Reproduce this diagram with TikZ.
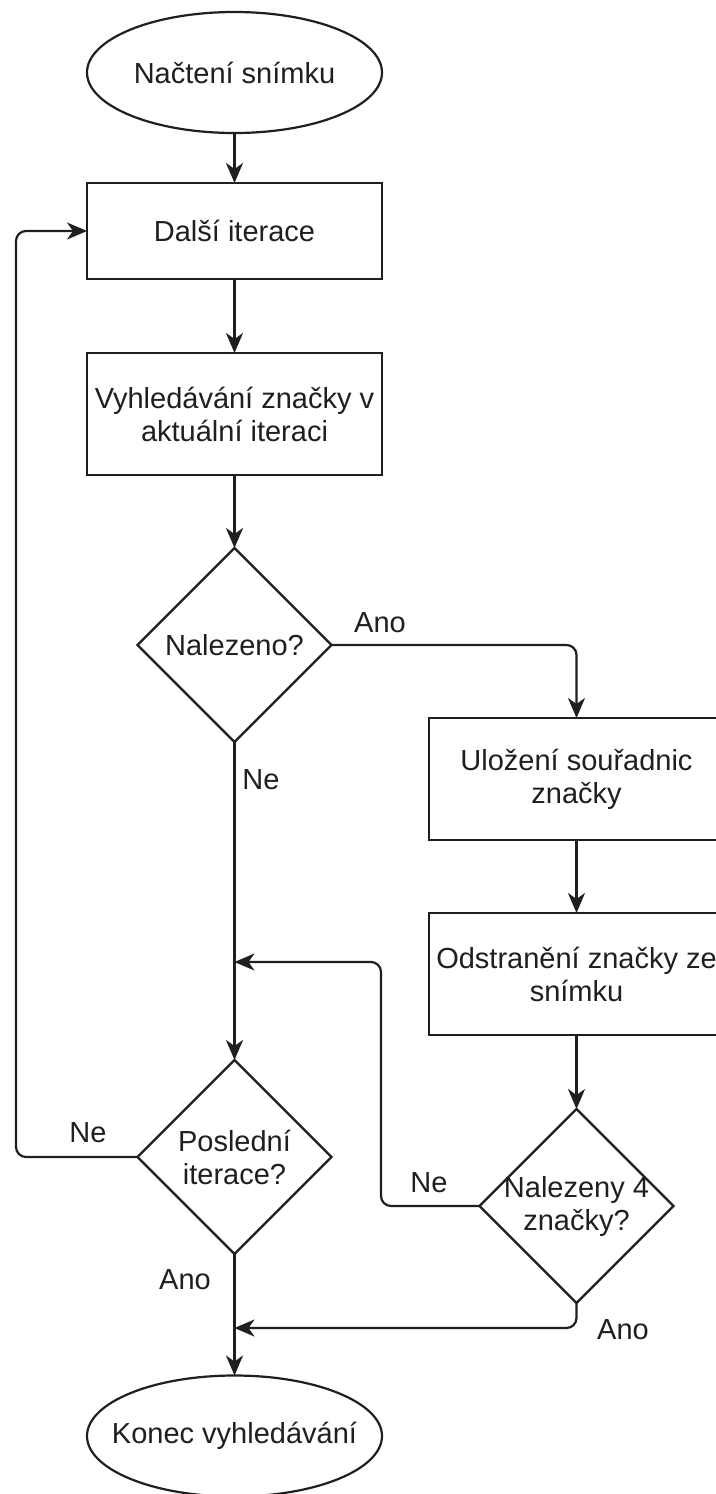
\documentclass[tikz,border=0pt]{standalone}
\usepackage{fontspec}
\setmainfont{Liberation Sans}
\usetikzlibrary{shapes.geometric,arrows.meta}
\begin{document}
\begin{tikzpicture}[x=1pt,y=-1pt,
  every node/.style={font=\fontsize{29}{33}\selectfont, text=black!88},
  base/.style={draw=black!88, line width=2.2pt, inner sep=0pt, outer sep=0pt},
  procbox/.style={base, rectangle, minimum width=295pt, align=center},
  termshape/.style={base, ellipse, minimum width=295pt, minimum height=121pt},
  decision/.style={base, diamond, minimum width=194pt, minimum height=194pt, align=center},
  conn/.style={draw=black!88, line width=2.2pt, rounded corners=10pt, -{Stealth[length=20pt,width=17pt,inset=6pt]}},
  lbl/.style={inner sep=0pt, align=center}
]
\fill[white] (0,0) rectangle (715,1494);
\useasboundingbox (0,0) rectangle (715,1494);

% nodes
\node[termshape, label={[lbl]center:Načtení snímku}] (start) at (234.5,72.5) {};
\node[procbox, minimum height=96pt] (iter) at (234.5,231) {Další iterace};
\node[procbox, minimum height=122pt] (search) at (234.5,414) {Vyhledávání značky v\\aktuální iteraci};
\node[decision] (found) at (234.5,645) {Nalezeno?};
\node[procbox, minimum height=122pt] (save) at (576.5,779) {Uložení souřadnic\\značky};
\node[procbox, minimum height=122pt] (remove) at (576.5,974) {Odstranění značky ze\\snímku};
\node[decision, label={[lbl]center:Nalezeny 4\\značky?}] (four) at (576.5,1206) {};
\node[decision] (last) at (234.5,1157) {Poslední\\iterace?};
\node[termshape, label={[lbl]center:Konec vyhledávání}] (end) at (234.5,1436) {};

% helper coordinates
\coordinate (j1) at (234.5,962);
\coordinate (j2) at (234.5,1328);
\coordinate (w1) at (16,231);
\coordinate (w2) at (381,962);

% connectors
\draw[conn] (start) -- (iter);
\draw[conn] (iter) -- (search);
\draw[conn] (search) -- (found);
\draw[conn] (found.east) -| (save.north);
\draw[conn] (found.south) -- (last.north);
\draw[conn] (save) -- (remove);
\draw[conn] (remove) -- (four);
\draw[conn] (four.west) -| (w2) -- (j1);
\draw[conn] (last.west) -| (w1) -- (iter.west);
\draw[conn] (last.south) -- (end.north);
\draw[conn] (four.south) |- (j2);

% labels
\node (lAno1) at (380,623) {Ano};
\node (lNe1) at (261,780) {Ne};
\node (lNe2) at (88,1133) {Ne};
\node (lNe3) at (429,1183) {Ne};
\node (lAno2) at (185,1280) {Ano};
\node (lAno3) at (623,1330) {Ano};
\end{tikzpicture}
\end{document}
